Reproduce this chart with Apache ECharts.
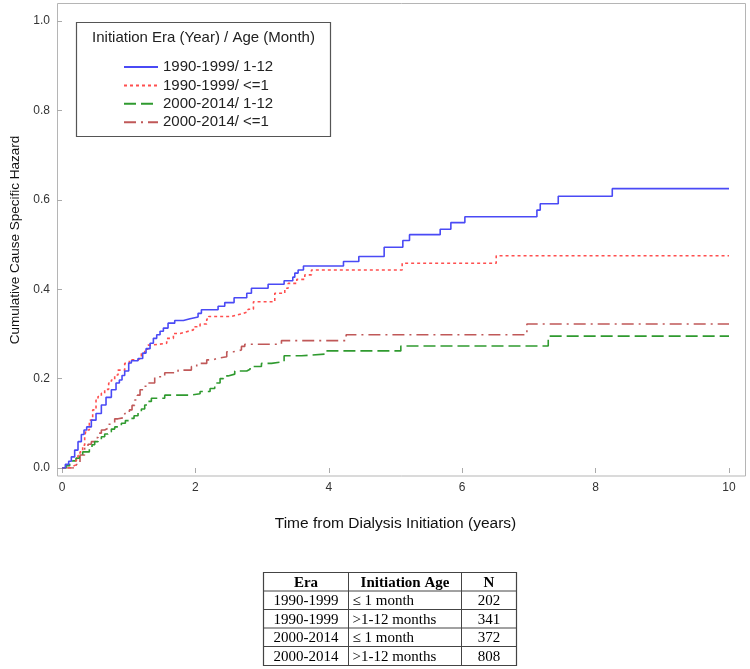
<!DOCTYPE html>
<html>
<head>
<meta charset="utf-8">
<script src="https://cdn.jsdelivr.net/npm/echarts@6/dist/echarts.min.js"></script>
<style>html,body{margin:0;padding:0;background:#fff}#c{width:750px;height:669px}</style>
</head>
<body>
<div id="c"></div>
<script>
// ---- data ----
const seriesNames = ['1990-1999/ 1-12', '1990-1999/ <=1', '2000-2014/ 1-12', '2000-2014/ <=1'];
const xTicks = [0, 2, 4, 6, 8, 10];
const yTicks = [0, 0.2, 0.4, 0.6, 0.8, 1.0];

const era1990_age1to12 = [[0,0],[0.05,0.008],[0.1,0.015],[0.14,0.025],[0.19,0.04],[0.24,0.059],[0.29,0.075],[0.33,0.085],[0.37,0.092],[0.44,0.107],[0.51,0.122],[0.59,0.141],[0.66,0.158],[0.74,0.175],[0.81,0.19],[0.86,0.197],[0.9,0.207],[0.94,0.217],[1.0,0.235],[1.04,0.24],[1.14,0.245],[1.21,0.257],[1.26,0.267],[1.32,0.279],[1.37,0.29],[1.42,0.298],[1.47,0.306],[1.52,0.313],[1.59,0.324],[1.69,0.33],[1.82,0.334],[1.92,0.338],[2.04,0.346],[2.09,0.354],[2.34,0.362],[2.44,0.37],[2.58,0.381],[2.77,0.391],[2.84,0.402],[3.09,0.411],[3.33,0.419],[3.46,0.427],[3.49,0.436],[3.54,0.443],[3.62,0.452],[4.22,0.462],[4.45,0.473],[4.83,0.494],[5.11,0.509],[5.21,0.522],[5.67,0.534],[5.83,0.549],[6.04,0.562],[7.12,0.577],[7.17,0.591],[7.44,0.608],[8.25,0.625],[10,0.625]];

const era1990_ageLe1 = [[0,0],[0.09,0],[0.12,0.004],[0.165,0.007],[0.21,0.018],[0.24,0.028],[0.27,0.036],[0.31,0.051],[0.34,0.07],[0.36,0.085],[0.41,0.107],[0.46,0.13],[0.51,0.152],[0.54,0.16],[0.59,0.167],[0.64,0.176],[0.7,0.19],[0.74,0.197],[0.79,0.208],[0.84,0.219],[0.94,0.234],[1.01,0.242],[1.14,0.246],[1.19,0.256],[1.24,0.266],[1.29,0.275],[1.34,0.279],[1.57,0.29],[1.67,0.301],[1.77,0.305],[1.87,0.309],[1.97,0.316],[2.07,0.322],[2.17,0.333],[2.2,0.339],[2.54,0.342],[2.62,0.346],[2.72,0.35],[2.79,0.355],[2.87,0.372],[3.19,0.391],[3.34,0.402],[3.39,0.413],[3.52,0.422],[3.64,0.432],[3.74,0.443],[5.1,0.458],[6.51,0.475],[10,0.475]];

const era2000_age1to12 = [[0,0],[0.06,0.005],[0.115,0.01],[0.16,0.016],[0.21,0.022],[0.26,0.029],[0.31,0.036],[0.41,0.044],[0.45,0.052],[0.49,0.059],[0.54,0.064],[0.59,0.07],[0.64,0.076],[0.69,0.081],[0.74,0.087],[0.79,0.092],[0.89,0.1],[0.95,0.106],[1.01,0.111],[1.08,0.117],[1.14,0.124],[1.19,0.132],[1.24,0.141],[1.29,0.149],[1.34,0.156],[1.54,0.163],[1.92,0.166],[2.07,0.171],[2.22,0.178],[2.29,0.19],[2.37,0.2],[2.42,0.206],[2.49,0.21],[2.59,0.217],[2.77,0.221],[2.82,0.227],[2.99,0.234],[3.14,0.238],[3.33,0.251],[3.59,0.255],[3.95,0.262],[5.08,0.273],[7.29,0.295],[10,0.295]];

const era2000_ageLe1 = [[0,0],[0.16,0],[0.19,0.007],[0.22,0.012],[0.27,0.029],[0.34,0.044],[0.39,0.053],[0.44,0.059],[0.49,0.068],[0.54,0.078],[0.59,0.085],[0.64,0.089],[0.69,0.098],[0.74,0.1],[0.79,0.11],[0.84,0.113],[0.94,0.122],[1.01,0.13],[1.05,0.14],[1.09,0.152],[1.13,0.163],[1.17,0.175],[1.22,0.183],[1.27,0.19],[1.39,0.204],[1.54,0.213],[1.74,0.219],[1.94,0.227],[2.02,0.234],[2.17,0.242],[2.27,0.245],[2.32,0.249],[2.47,0.26],[2.57,0.264],[2.69,0.272],[2.74,0.277],[3.29,0.285],[4.26,0.298],[6.97,0.322],[10,0.322]];

const tableHeader = ['Era', 'Initiation Age', 'N'];
const tableEra = ['1990-1999', '1990-1999', '2000-2014', '2000-2014'];
const tableAge = ['\u2264 1 month', '>1-12 months', '\u2264 1 month', '>1-12 months'];
const tableN = ['202', '341', '372', '808'];

const legendTitle = 'Initiation Era (Year) / Age (Month)';
const xTitle = 'Time from Dialysis Initiation (years)';
const yTitle = 'Cumulative Cause Specific Hazard';

// ---- chart ----
const SANS = '"Liberation Sans", Arial, sans-serif';
const SERIF = '"Liberation Serif", "Times New Roman", serif';
const seriesData = [era1990_age1to12, era1990_ageLe1, era2000_age1to12, era2000_ageLe1];
const colors = ['#4a4af5', '#ff4f4f', '#2f9a2f', '#c05858'];
const dashes = ['solid', [3, 3], [12, 5], [12, 5, 2, 5]];

const chart = echarts.init(document.getElementById('c'), null, {renderer: 'canvas'});

// table graphics
const tX = [263.5, 348.5, 461.5, 516.5];
const tY = [572.5, 591, 609.5, 628, 646.5, 665.5];
const tableGraphics = [];
tableGraphics.push({type: 'rect', shape: {x: tX[0], y: tY[0], width: tX[3] - tX[0], height: tY[5] - tY[0]},
  style: {fill: 'none', stroke: '#444', lineWidth: 1.2}});
for (let i = 1; i < 5; i++) tableGraphics.push({type: 'line', shape: {x1: tX[0], y1: tY[i], x2: tX[3], y2: tY[i]}, style: {stroke: '#444', lineWidth: 1}});
for (let j = 1; j < 3; j++) tableGraphics.push({type: 'line', shape: {x1: tX[j], y1: tY[0], x2: tX[j], y2: tY[5]}, style: {stroke: '#444', lineWidth: 1}});
tableHeader.forEach((h, j) => {
  tableGraphics.push({type: 'text', x: (tX[j] + tX[j + 1]) / 2, y: (tY[0] + tY[1]) / 2 + 1,
    style: {text: h, font: 'bold 15px ' + SERIF, fill: '#000', align: 'center', verticalAlign: 'middle'}});
});
for (let r = 0; r < 4; r++) {
  const cy = (tY[r + 1] + tY[r + 2]) / 2 + 1;
  tableGraphics.push({type: 'text', x: (tX[0] + tX[1]) / 2, y: cy, style: {text: tableEra[r], font: '15px ' + SERIF, fill: '#000', align: 'center', verticalAlign: 'middle'}});
  tableGraphics.push({type: 'text', x: tX[1] + 4, y: cy, style: {text: tableAge[r], font: '15px ' + SERIF, fill: '#000', align: 'left', verticalAlign: 'middle'}});
  tableGraphics.push({type: 'text', x: (tX[2] + tX[3]) / 2, y: cy, style: {text: tableN[r], font: '15px ' + SERIF, fill: '#000', align: 'center', verticalAlign: 'middle'}});
}

const option = {
  animation: false,
  backgroundColor: '#fff',
  grid: {left: 62, right: 21, top: 21, bottom: 201, containLabel: false},
  xAxis: {
    type: 'value', min: xTicks[0], max: xTicks[xTicks.length - 1], interval: 2, offset: 8,
    axisLine: {show: false},
    axisTick: {show: true, length: 5, lineStyle: {color: '#aaa'}},
    axisLabel: {margin: 6, fontSize: 12, color: '#333', fontFamily: SANS},
    splitLine: {show: false}
  },
  yAxis: {
    type: 'value', min: yTicks[0], max: yTicks[yTicks.length - 1], interval: 0.2, offset: 5,
    axisLine: {show: false},
    axisTick: {show: true, length: 5, lineStyle: {color: '#aaa'}},
    axisLabel: {margin: 7, fontSize: 12, color: '#333', fontFamily: SANS, formatter: v => v.toFixed(1)},
    splitLine: {show: false}
  },
  legend: {
    orient: 'vertical', left: 123, top: 59.5, padding: 0, itemWidth: 34, itemHeight: 14, itemGap: 3.4,
    itemStyle: {color: 'rgba(0,0,0,0)', borderColor: 'rgba(0,0,0,0)', borderWidth: 0, opacity: 0},
    textStyle: {fontSize: 15, color: '#222', fontFamily: SANS},
    data: seriesNames
  },
  series: seriesNames.map((n, i) => ({
    name: n, type: 'line', step: 'end', symbol: 'none', data: seriesData[i],
    lineStyle: {color: colors[i], width: 1.6, type: dashes[i]},
    itemStyle: {color: colors[i]},
    z: 4 - i
  })),
  graphic: [
    {type: 'rect', shape: {x: 57.5, y: 3.5, width: 688, height: 472.5}, style: {fill: 'none', stroke: '#b5b5b5', lineWidth: 1}, z: 0, silent: true},
    {type: 'rect', shape: {x: 76.5, y: 22.5, width: 254, height: 114}, style: {fill: 'none', stroke: '#555', lineWidth: 1.2}, z: 5, silent: true},
    {type: 'text', x: 203.5, y: 38, style: {text: legendTitle, font: '15px ' + SANS, fill: '#222', align: 'center', verticalAlign: 'middle'}, z: 5},
    {type: 'text', x: 395.5, y: 524, style: {text: xTitle, font: '15.5px ' + SANS, fill: '#111', align: 'center', verticalAlign: 'middle'}, z: 5},
    {type: 'text', x: 15, y: 240, rotation: Math.PI / 2, style: {text: yTitle, font: '13.5px ' + SANS, fill: '#111', align: 'center', verticalAlign: 'middle'}, z: 5},
    ...tableGraphics
  ]
};
chart.setOption(option);
</script>
</body>
</html>
